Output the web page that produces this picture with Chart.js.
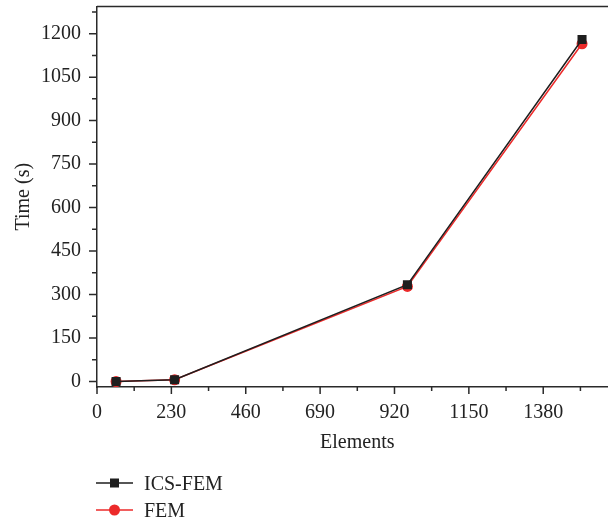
<!DOCTYPE html>
<html>
<head>
<meta charset="utf-8">
<script src="https://cdn.jsdelivr.net/npm/chart.js@4/dist/chart.umd.min.js"></script>
<style>
  html, body { margin: 0; padding: 0; background: #fff; overflow: hidden; width: 608px; height: 525px; }
  #wrap { position: absolute; left: 0; top: 0; width: 624px; height: 525px; }
  .leg { position: absolute; left: 96px; font-family: "Liberation Serif", "Times New Roman", serif; font-size: 20px; color: #222; display: flex; align-items: center; height: 24px; }
  .leg svg { display: block; margin-right: 11px; }
</style>
</head>
<body>
<div id="wrap"><canvas id="c" width="624" height="525"></canvas></div>
<div class="leg" style="top:471px">
  <svg width="37" height="14"><line x1="0" y1="7" x2="37" y2="7" stroke="#1e1e1e" stroke-width="1.5"/><rect x="14" y="2.5" width="9" height="9" fill="#1e1e1e"/></svg>ICS-FEM
</div>
<div class="leg" style="top:498px">
  <svg width="37" height="14"><line x1="0" y1="7" x2="37" y2="7" stroke="#ec2a2a" stroke-width="1.5"/><circle cx="18.5" cy="7" r="5.5" fill="#ec2a2a"/></svg>FEM
</div>
<script>
const elements = [59, 240, 960, 1500];
const icsFem = [0, 6, 334, 1180];
const fem = [0, 6, 328, 1165];
const xTicks = [0, 230, 460, 690, 920, 1150, 1380];
const yTicks = [0, 150, 300, 450, 600, 750, 900, 1050, 1200];

const FONT = "'Liberation Serif', 'Times New Roman', serif";
const AXIS = '#2a2a2a';

const tickPlugin = {
  id: 'minorTicks',
  afterDraw(chart) {
    const ctx = chart.ctx;
    const xs = chart.scales.x, ys = chart.scales.y;
    const area = chart.chartArea;
    ctx.save();
    ctx.strokeStyle = AXIS;
    ctx.lineWidth = 1.5;
    ctx.beginPath();
    for (let v = xs.min; v <= xs.max; v += 115) {
      const px = xs.getPixelForValue(v);
      const len = (v % 230 === 0) ? 7 : 4;
      ctx.moveTo(px, area.bottom);
      ctx.lineTo(px, area.bottom + len);
    }
    for (let v = 0; v <= ys.max; v += 75) {
      const py = ys.getPixelForValue(v);
      const len = (v % 150 === 0) ? 8 : 5;
      ctx.moveTo(area.left, py);
      ctx.lineTo(area.left - len, py);
    }
    ctx.stroke();
    ctx.beginPath();
    ctx.moveTo(area.left, area.top);
    ctx.lineTo(area.right, area.top);
    ctx.lineTo(area.right, area.bottom);
    ctx.stroke();
    ctx.restore();
  }
};

new Chart(document.getElementById('c'), {
  type: 'line',
  data: {
    datasets: [
      {
        label: 'ICS-FEM',
        data: elements.map((x, i) => ({ x, y: icsFem[i] })),
        borderColor: '#1e1e1e',
        backgroundColor: '#1e1e1e',
        borderWidth: 1.5,
        pointStyle: 'rect',
        pointRadius: 6.4,
        pointBorderWidth: 0,
        tension: 0
      },
      {
        label: 'FEM',
        data: elements.map((x, i) => ({ x, y: fem[i] })),
        borderColor: '#ec2a2a',
        backgroundColor: '#ec2a2a',
        borderWidth: 1.5,
        pointStyle: 'circle',
        pointRadius: 5.5,
        pointBorderWidth: 0,
        tension: 0
      }
    ]
  },
  options: {
    responsive: false,
    animation: false,
    events: [],
    layout: { padding: { top: 2, right: 2, bottom: 70, left: 0 } },
    plugins: { legend: { display: false }, tooltip: { enabled: false } },
    scales: {
      x: {
        type: 'linear',
        min: 0,
        max: 1610,
        afterBuildTicks(s) { s.ticks = xTicks.map(v => ({ value: v })); },
        afterFit(s) { s.height = 68; s.paddingLeft = 0; s.paddingRight = 0; },
        grid: { display: false, drawTicks: false },
        border: { display: true, color: AXIS, width: 1.5 },
        ticks: { color: '#222', font: { family: FONT, size: 20 }, padding: 14, maxRotation: 0, autoSkip: false, callback: v => String(v) },
        title: { display: true, text: 'Elements', color: '#222', font: { family: FONT, size: 20 }, padding: { top: 4, bottom: 0 } }
      },
      y: {
        min: -19,
        max: 1294,
        afterBuildTicks(s) { s.ticks = yTicks.map(v => ({ value: v })); },
        afterFit(s) { s.width = 97; s.paddingTop = 0; s.paddingBottom = 0; },
        grid: { display: false, drawTicks: false },
        border: { display: true, color: AXIS, width: 1.5 },
        ticks: { color: '#222', font: { family: FONT, size: 20 }, padding: 16, autoSkip: false, callback: v => String(v) },
        title: { display: true, text: 'Time (s)', color: '#222', font: { family: FONT, size: 20 }, padding: { top: 12, bottom: 0 } }
      }
    }
  },
  plugins: [tickPlugin]
});
</script>
</body>
</html>
